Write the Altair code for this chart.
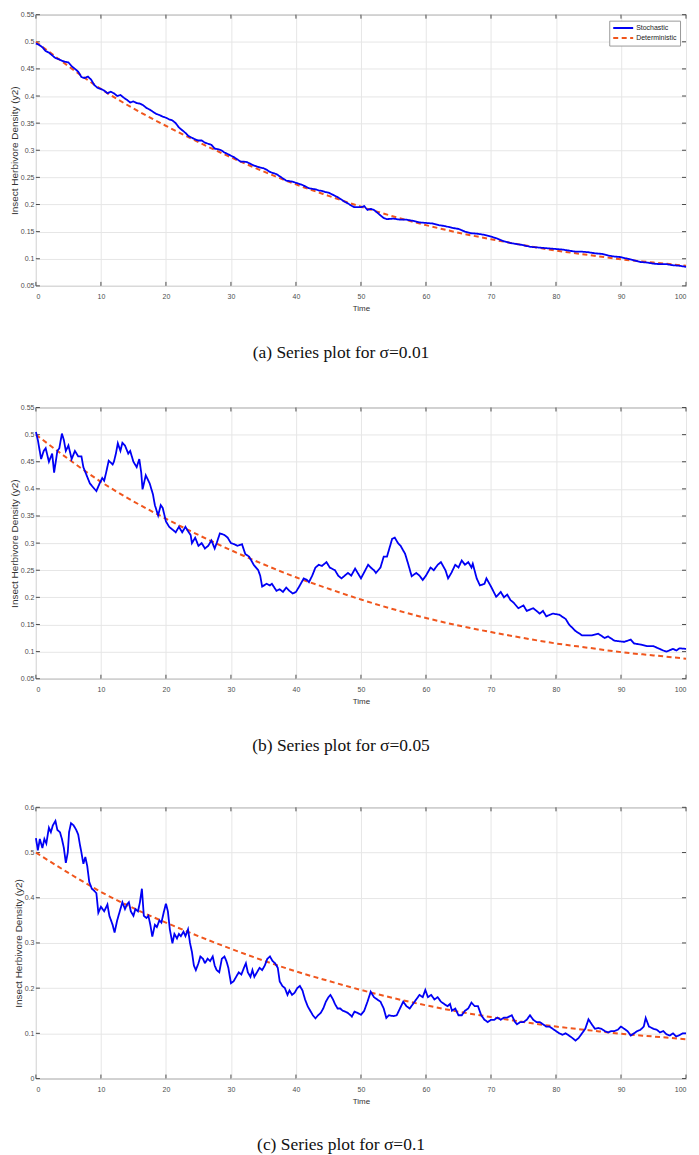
import altair as alt
import pandas as pd

# ---------------- data ----------------
SERIES = ["Stochastic", "Deterministic"]
COLORS = ["#0000f5", "#f0561d"]

x_ticks = [0, 10, 20, 30, 40, 50, 60, 70, 80, 90, 100]
y_ticks_ab = [0.05, 0.1, 0.15, 0.2, 0.25, 0.3, 0.35, 0.4, 0.45, 0.5, 0.55]
y_ticks_c = [0, 0.1, 0.2, 0.3, 0.4, 0.5, 0.6]

captions = ["(a) Series plot for σ=0.01",
            "(b) Series plot for σ=0.05",
            "(c) Series plot for σ=0.1"]

deterministic = [(0, 0.5), (5, 0.455), (10, 0.413), (15, 0.377), (20, 0.345),
                 (25, 0.315), (30, 0.287), (35, 0.261), (40, 0.237), (45, 0.216),
                 (50, 0.196), (55, 0.178), (60, 0.162), (65, 0.148), (70, 0.136),
                 (75, 0.125), (80, 0.115), (85, 0.107), (90, 0.099), (95, 0.093),
                 (100, 0.087)]

stoch_a = [(0, 0.497), (0.5, 0.494), (1, 0.49), (1.5, 0.483), (2, 0.48), (2.5, 0.475),
           (3, 0.47), (3.5, 0.468), (4, 0.465), (4.5, 0.463), (5, 0.462), (5.5, 0.455),
           (6, 0.45), (6.5, 0.445), (7, 0.435), (7.5, 0.433), (8, 0.436), (8.5, 0.43),
           (9, 0.42), (9.5, 0.415), (10, 0.413), (10.5, 0.41), (11, 0.405), (11.5, 0.408),
           (12, 0.405), (12.5, 0.4), (13, 0.402), (13.5, 0.397), (14, 0.393), (14.5, 0.388),
           (15, 0.39), (15.5, 0.387), (16, 0.386), (16.5, 0.383), (17, 0.378), (17.5, 0.375),
           (18, 0.371), (18.5, 0.367), (19, 0.365), (19.5, 0.362), (20, 0.36), (20.5, 0.357),
           (21, 0.355), (21.5, 0.35), (22, 0.342), (22.5, 0.337), (23, 0.332), (23.5, 0.326),
           (24, 0.323), (24.5, 0.32), (25, 0.318), (25.5, 0.318), (26, 0.314), (26.5, 0.312),
           (27, 0.31), (27.5, 0.303), (28, 0.302), (28.5, 0.3), (29, 0.296), (29.5, 0.293),
           (30, 0.29), (30.5, 0.287), (31, 0.283), (31.5, 0.279), (32, 0.279), (32.5, 0.278),
           (33, 0.275), (33.5, 0.272), (34, 0.27), (34.5, 0.268), (35, 0.267), (35.5, 0.264),
           (36, 0.26), (36.5, 0.258), (37, 0.256), (37.5, 0.252), (38, 0.248), (38.5, 0.244),
           (39, 0.243), (39.5, 0.242), (40, 0.24), (40.5, 0.238), (41, 0.236), (41.5, 0.233),
           (42, 0.23), (42.5, 0.229), (43, 0.228), (43.5, 0.226), (44, 0.225), (44.5, 0.223),
           (45, 0.222), (45.5, 0.219), (46, 0.216), (46.5, 0.213), (47, 0.209), (47.5, 0.205),
           (48, 0.202), (48.5, 0.198), (49, 0.195), (50, 0.195), (50.5, 0.197), (51, 0.19),
           (51.5, 0.192), (52, 0.19), (52.5, 0.185), (53, 0.18), (53.5, 0.175), (54, 0.173),
           (55, 0.174), (56, 0.172), (57, 0.172), (58, 0.17), (59, 0.167), (60, 0.166),
           (61, 0.165), (62, 0.162), (63, 0.16), (64, 0.157), (65, 0.155), (66, 0.15),
           (67, 0.147), (68, 0.146), (69, 0.144), (70, 0.141), (71, 0.137), (72, 0.132),
           (73, 0.129), (74, 0.127), (75, 0.125), (76, 0.122), (77, 0.121), (78, 0.12),
           (79, 0.119), (80, 0.118), (81, 0.117), (82, 0.115), (83, 0.113), (84, 0.113),
           (85, 0.112), (86, 0.11), (87, 0.109), (88, 0.106), (89, 0.104), (90, 0.103),
           (91, 0.1), (92, 0.097), (93, 0.094), (94, 0.093), (95, 0.091), (96, 0.09),
           (97, 0.09), (98, 0.088), (99, 0.087), (100, 0.085)]

stoch_b = [(0, 0.505), (0.3, 0.49), (0.8, 0.455), (1.2, 0.47), (1.5, 0.475), (2.0, 0.45),
           (2.5, 0.465), (2.8, 0.43), (3.3, 0.47), (3.6, 0.475), (4.0, 0.502), (4.3, 0.49),
           (4.6, 0.47), (5.0, 0.48), (5.5, 0.455), (6.0, 0.47), (6.5, 0.46), (7.0, 0.46),
           (7.3, 0.44), (7.8, 0.425), (8.3, 0.41), (9.0, 0.4), (9.3, 0.396), (9.8, 0.41),
           (10.2, 0.42), (10.5, 0.415), (10.8, 0.43), (11.2, 0.452), (11.8, 0.445), (12.0, 0.45),
           (12.3, 0.465), (12.6, 0.484), (13.0, 0.47), (13.3, 0.485), (13.7, 0.48), (14.2, 0.465),
           (14.5, 0.47), (15.0, 0.45), (15.5, 0.44), (15.9, 0.455), (16.2, 0.43), (16.4, 0.399),
           (16.9, 0.425), (17.5, 0.41), (18.0, 0.39), (18.3, 0.37), (18.8, 0.351), (19.2, 0.37),
           (19.5, 0.365), (20.0, 0.34), (20.5, 0.33), (21.0, 0.325), (21.5, 0.32), (22.0, 0.33),
           (22.5, 0.32), (23.0, 0.33), (23.5, 0.32), (23.8, 0.315), (24.0, 0.3), (24.5, 0.31),
           (25.0, 0.295), (25.5, 0.3), (26.0, 0.29), (26.5, 0.295), (27.0, 0.305), (27.5, 0.29),
           (27.8, 0.3), (28.3, 0.318), (29.0, 0.315), (29.5, 0.31), (30.0, 0.3), (30.5, 0.298),
           (31.0, 0.295), (31.7, 0.298), (32.2, 0.28), (32.8, 0.275), (33.5, 0.26), (34.2, 0.25),
           (34.5, 0.24), (34.8, 0.22), (35.5, 0.225), (36.0, 0.222), (36.3, 0.225), (37.0, 0.212),
           (37.5, 0.215), (38.0, 0.21), (38.5, 0.218), (39.0, 0.212), (39.5, 0.207), (40.0, 0.21),
           (40.5, 0.22), (41.2, 0.235), (41.7, 0.232), (42.0, 0.228), (42.5, 0.24), (43.0, 0.255),
           (43.5, 0.26), (44.0, 0.258), (44.7, 0.265), (45.2, 0.255), (46.0, 0.25), (46.5, 0.24),
           (47.0, 0.235), (47.5, 0.24), (48.0, 0.245), (48.5, 0.24), (49.1, 0.253), (50.0, 0.235),
           (51.1, 0.26), (51.5, 0.255), (52.0, 0.25), (52.3, 0.245), (53.0, 0.255), (53.5, 0.275),
           (54.0, 0.275), (54.8, 0.308), (55.2, 0.31), (55.7, 0.3), (56.1, 0.295), (56.8, 0.28),
           (57.3, 0.26), (57.8, 0.239), (58.5, 0.245), (59.0, 0.24), (59.5, 0.232), (60.0, 0.24),
           (60.7, 0.255), (61.2, 0.25), (61.8, 0.26), (62.3, 0.265), (63.0, 0.25), (63.4, 0.235),
           (63.9, 0.245), (64.5, 0.26), (65.0, 0.255), (65.5, 0.268), (66.0, 0.26), (66.5, 0.265),
           (67.0, 0.255), (67.2, 0.262), (67.8, 0.235), (68.3, 0.222), (69.0, 0.225), (69.3, 0.235),
           (70.0, 0.22), (70.8, 0.201), (71.5, 0.21), (72.0, 0.2), (72.5, 0.205), (73.0, 0.195),
           (73.5, 0.19), (74.2, 0.18), (75.0, 0.185), (75.5, 0.175), (76.5, 0.18), (77.5, 0.17),
           (78.0, 0.175), (78.5, 0.165), (79.5, 0.17), (80.5, 0.168), (81.5, 0.16), (82.0, 0.15),
           (83.0, 0.138), (84.0, 0.13), (85.5, 0.13), (86.5, 0.133), (87.5, 0.125), (88.0, 0.128),
           (89.0, 0.12), (90.5, 0.118), (91.5, 0.122), (92.0, 0.115), (93.0, 0.113), (94.0, 0.11),
           (95.0, 0.11), (96.5, 0.102), (97.0, 0.1), (98.0, 0.105), (98.5, 0.102), (99.0, 0.106),
           (100.0, 0.105)]

stoch_c = [(0, 0.532), (0.3, 0.505), (0.6, 0.53), (1.0, 0.51), (1.3, 0.53), (1.6, 0.52),
           (2.0, 0.555), (2.3, 0.545), (2.6, 0.56), (3.0, 0.57), (3.3, 0.55), (3.7, 0.545),
           (4.0, 0.53), (4.3, 0.51), (4.6, 0.477), (4.9, 0.5), (5.1, 0.545), (5.4, 0.565),
           (5.8, 0.56), (6.2, 0.55), (6.5, 0.54), (6.8, 0.515), (7.0, 0.5), (7.3, 0.475),
           (7.6, 0.49), (7.9, 0.47), (8.2, 0.435), (8.6, 0.42), (9.0, 0.415), (9.3, 0.41),
           (9.6, 0.367), (10.0, 0.38), (10.5, 0.37), (11.0, 0.385), (11.3, 0.36), (11.8, 0.34),
           (12.1, 0.323), (12.5, 0.35), (13.0, 0.375), (13.3, 0.39), (13.7, 0.375), (14.0, 0.385),
           (14.3, 0.39), (14.6, 0.37), (15.0, 0.36), (15.3, 0.375), (15.7, 0.37), (16.0, 0.39),
           (16.3, 0.42), (16.6, 0.36), (17.0, 0.355), (17.3, 0.36), (17.6, 0.34), (17.9, 0.314),
           (18.3, 0.34), (18.6, 0.335), (19.0, 0.35), (19.3, 0.345), (19.7, 0.37), (20.0, 0.387),
           (20.3, 0.37), (20.6, 0.33), (21.0, 0.299), (21.3, 0.32), (21.7, 0.31), (22.0, 0.32),
           (22.3, 0.315), (22.7, 0.325), (23.0, 0.315), (23.4, 0.33), (23.7, 0.3), (24.0, 0.28),
           (24.3, 0.25), (24.6, 0.24), (25.0, 0.255), (25.3, 0.27), (25.7, 0.265), (26.0, 0.255),
           (26.4, 0.265), (26.8, 0.26), (27.2, 0.27), (27.5, 0.25), (27.8, 0.24), (28.2, 0.235),
           (28.6, 0.265), (29.0, 0.27), (29.3, 0.26), (29.6, 0.245), (30.0, 0.211), (30.4, 0.215),
           (30.8, 0.225), (31.2, 0.235), (31.6, 0.23), (32.0, 0.245), (32.3, 0.255), (32.6, 0.235),
           (33.0, 0.225), (33.3, 0.24), (33.6, 0.225), (34.0, 0.235), (34.4, 0.245), (34.8, 0.24),
           (35.2, 0.25), (35.6, 0.265), (36.0, 0.27), (36.4, 0.26), (36.8, 0.255), (37.2, 0.245),
           (37.5, 0.215), (37.9, 0.205), (38.3, 0.2), (38.7, 0.185), (39.0, 0.195), (39.4, 0.185),
           (39.8, 0.19), (40.2, 0.2), (40.6, 0.205), (41.0, 0.195), (41.4, 0.175), (41.8, 0.16),
           (42.2, 0.15), (42.6, 0.14), (43.0, 0.133), (43.4, 0.14), (43.8, 0.145), (44.2, 0.155),
           (44.6, 0.17), (45.0, 0.18), (45.3, 0.185), (45.7, 0.175), (46.0, 0.165), (46.4, 0.155),
           (46.8, 0.155), (47.2, 0.15), (47.6, 0.148), (48.0, 0.145), (48.4, 0.14), (48.6, 0.137),
           (49.0, 0.148), (49.5, 0.145), (50.0, 0.141), (50.5, 0.15), (51.0, 0.17), (51.5, 0.192),
           (52.0, 0.18), (52.5, 0.175), (53.0, 0.17), (53.5, 0.155), (53.9, 0.134), (54.3, 0.14),
           (55.0, 0.138), (55.5, 0.14), (56.0, 0.155), (56.5, 0.17), (57.0, 0.16), (57.5, 0.155),
           (58.0, 0.165), (58.5, 0.175), (59.0, 0.185), (59.5, 0.18), (59.9, 0.196), (60.3, 0.18),
           (60.8, 0.185), (61.3, 0.175), (61.8, 0.18), (62.3, 0.17), (62.8, 0.165), (63.3, 0.16),
           (63.7, 0.165), (64.0, 0.15), (64.5, 0.155), (65.0, 0.14), (65.5, 0.14), (66.0, 0.15),
           (66.5, 0.155), (67.0, 0.168), (67.5, 0.16), (68.0, 0.16), (68.5, 0.14), (69.0, 0.13),
           (69.5, 0.125), (70.0, 0.13), (70.5, 0.13), (71.0, 0.135), (71.5, 0.13), (72.0, 0.135),
           (72.5, 0.135), (73.2, 0.14), (73.7, 0.125), (74.0, 0.12), (74.5, 0.125), (75.0, 0.125),
           (75.5, 0.13), (76.0, 0.14), (76.5, 0.13), (77.0, 0.125), (77.5, 0.125), (78.0, 0.12),
           (78.5, 0.115), (79.0, 0.115), (79.5, 0.11), (80.0, 0.105), (80.5, 0.1), (81.0, 0.097),
           (81.5, 0.1), (82.0, 0.095), (82.5, 0.09), (83.0, 0.084), (83.5, 0.09), (84.0, 0.1),
           (84.5, 0.11), (85.0, 0.131), (85.5, 0.12), (86.0, 0.11), (86.5, 0.112), (87.0, 0.11),
           (87.5, 0.105), (88.0, 0.102), (88.5, 0.105), (89.0, 0.105), (89.5, 0.108), (90.0, 0.115),
           (90.5, 0.11), (91.0, 0.105), (91.5, 0.095), (92.0, 0.1), (92.5, 0.105), (93.0, 0.108),
           (93.5, 0.115), (93.8, 0.134), (94.3, 0.115), (95.0, 0.11), (95.5, 0.108), (96.0, 0.102),
           (96.5, 0.105), (97.0, 0.098), (97.5, 0.095), (98.0, 0.1), (98.5, 0.093), (99.0, 0.096),
           (99.5, 0.1), (100.0, 0.1)]

# ---------------- chart ----------------
W, H = 652, 272
FRAME = "#7a7a7a"
TICK = "#4a4a4a"


def panel(stoch, ydom, yticks, caption):
    sto = pd.DataFrame(stoch, columns=["t", "y"])
    sto["series"] = SERIES[0]
    det = pd.DataFrame(deterministic, columns=["t", "y"])
    det["series"] = SERIES[1]

    leg = alt.Legend(title=None, orient="top-right", offset=6, symbolType="stroke",
                     symbolSize=400, symbolStrokeWidth=2, clipHeight=9,
                     labelFont="Liberation Sans", labelFontSize=7, labelColor="#222",
                     labelOffset=2, padding=3, rowPadding=1,
                     strokeColor="#9a9a9a", fillColor="white")
    color = alt.Color("series:N", scale=alt.Scale(domain=SERIES, range=COLORS), legend=leg)
    dash = alt.StrokeDash("series:N", scale=alt.Scale(domain=SERIES, range=[[1, 0], [5, 3.5]]),
                          legend=leg)
    x = alt.X("t:Q", scale=alt.Scale(domain=[0, 100], nice=False),
              axis=alt.Axis(values=x_ticks, title="Time", labelPadding=7, titlePadding=5))
    y = alt.Y("y:Q", scale=alt.Scale(domain=ydom, nice=False),
              axis=alt.Axis(values=yticks, format="~g", title="Insect Herbivore Density (y2)",
                            titleFontSize=10, labelPadding=2, titlePadding=1))

    l_sto = alt.Chart(sto).mark_line(strokeWidth=1.8).encode(x=x, y=y, color=color, strokeDash=dash)
    l_det = alt.Chart(det).mark_line(strokeWidth=2, interpolate="monotone").encode(
        x=x, y=y, color=color, strokeDash=dash)

    xt = pd.DataFrame({"t": x_ticks})
    yt = pd.DataFrame({"y": yticks})
    tb = alt.Chart(xt).mark_rule(color=TICK, strokeWidth=1).encode(x=x, y=alt.value(H), y2=alt.value(H - 4))
    tt = alt.Chart(xt).mark_rule(color=TICK, strokeWidth=1).encode(x=x, y=alt.value(0), y2=alt.value(4))
    tl = alt.Chart(yt).mark_rule(color=TICK, strokeWidth=1).encode(y=y, x=alt.value(0), x2=alt.value(4))
    tr = alt.Chart(yt).mark_rule(color=TICK, strokeWidth=1).encode(y=y, x=alt.value(W), x2=alt.value(W - 4))

    return alt.layer(tb, tt, tl, tr, l_det, l_sto).properties(
        width=W, height=H,
        title=alt.TitleParams(caption, orient="bottom", anchor="middle", font="Liberation Serif",
                              fontSize=17.5, fontWeight="normal", color="#111", offset=31, dx=-20))


p1 = panel(stoch_a, [0.05, 0.55], y_ticks_ab, captions[0])
p2 = panel(stoch_b, [0.05, 0.55], y_ticks_ab, captions[1])
p3 = panel(stoch_c, [0, 0.6], y_ticks_c, captions[2])

chart = alt.vconcat(alt.vconcat(p1, p2, spacing=41), p3, spacing=48).properties(
    padding={"left": 0, "top": 0, "right": 0, "bottom": 0}
).configure_axis(
    labelFont="Liberation Sans", labelFontSize=7, labelColor="#4d4d4d",
    titleFont="Liberation Sans", titleFontSize=8, titleFontWeight="normal", titleColor="#333",
    grid=True, gridColor="#e6e6e6", gridWidth=1, ticks=False, domain=False
).configure_view(stroke=FRAME, strokeWidth=1)

chart.save("out.html", embed_options={"renderer": "svg", "actions": False})
